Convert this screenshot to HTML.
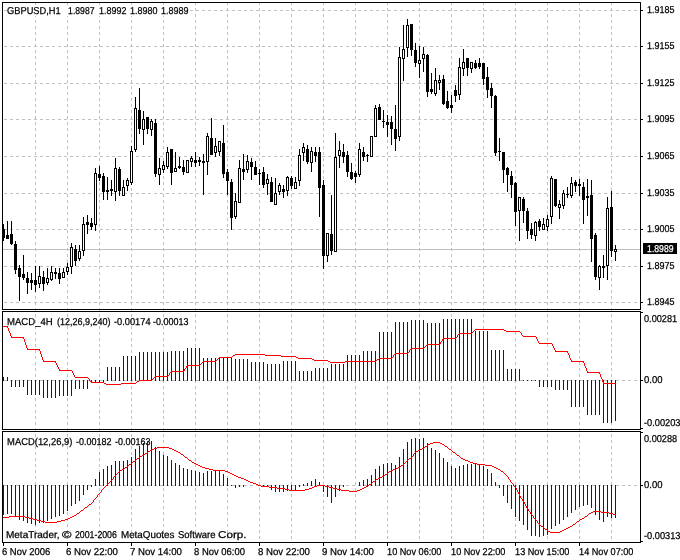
<!DOCTYPE html><html><head><meta charset="utf-8"><title>GBPUSD,H1</title><style>html,body{margin:0;padding:0;background:#fff;width:680px;height:560px;overflow:hidden}text{font-family:"Liberation Sans",sans-serif}</style></head><body><svg width="680" height="560" viewBox="0 0 680 560" shape-rendering="crispEdges" style="display:block;will-change:transform"><defs><pattern id="vg" patternUnits="userSpaceOnUse" x="0" y="0" width="32" height="6"><rect x="3" y="2" width="1" height="3" fill="#c0c0c0"/></pattern><pattern id="hg" patternUnits="userSpaceOnUse" x="0" y="0" width="6" height="1"><rect x="0" y="0" width="1" height="1" fill="#c0c0c0"/><rect x="4" y="0" width="2" height="1" fill="#c0c0c0"/></pattern></defs><rect width="680" height="560" fill="#fff"/><rect x="35" y="3" width="577" height="539" fill="url(#vg)"/><rect x="3" y="10" width="637" height="1" fill="url(#hg)"/><rect x="3" y="46" width="637" height="1" fill="url(#hg)"/><rect x="3" y="83" width="637" height="1" fill="url(#hg)"/><rect x="3" y="119" width="637" height="1" fill="url(#hg)"/><rect x="3" y="156" width="637" height="1" fill="url(#hg)"/><rect x="3" y="193" width="637" height="1" fill="url(#hg)"/><rect x="3" y="229" width="637" height="1" fill="url(#hg)"/><rect x="3" y="266" width="637" height="1" fill="url(#hg)"/><rect x="3" y="302" width="637" height="1" fill="url(#hg)"/><rect x="3" y="380" width="637" height="1" fill="url(#hg)"/><rect x="3" y="485" width="637" height="1" fill="url(#hg)"/><rect x="3" y="249" width="637" height="1" fill="#c0c0c0"/><path fill="#000" d="M3 224h1v17h-1zM2 229h3v9h-3zM7 221h1v18h-1zM6 235h3v4h-3zM11 221h1v24h-1zM10 234h3v10h-3zM15 241h1v33h-1zM14 244h3v26h-3zM19 265h1v36h-1zM18 268h3v9h-3zM23 255h1v25h-1zM22 274h3v4h-3zM27 272h1v22h-1zM26 278h3v5h-3zM31 273h1v17h-1zM30 280h3v3h-3zM35 266h1v26h-1zM34 280h3v5h-3zM39 266h1v22h-1zM38 276h3v8h-3zM43 271h1v20h-1zM42 277h3v7h-3zM47 268h1v17h-1zM46 278h3v5h-3zM51 266h1v15h-1zM50 272h3v8h-3zM55 268h1v11h-1zM54 272h3v2h-3zM59 268h1v16h-1zM58 273h3v6h-3zM63 268h1v10h-1zM62 272h3v6h-3zM67 263h1v12h-1zM66 267h3v5h-3zM71 243h1v31h-1zM70 247h3v20h-3zM75 245h1v21h-1zM74 249h3v12h-3zM79 245h1v16h-1zM78 251h3v8h-3zM83 217h1v39h-1zM82 224h3v27h-3zM87 215h1v19h-1zM86 222h3v3h-3zM91 218h1v12h-1zM90 223h3v4h-3zM95 168h1v63h-1zM94 173h3v52h-3zM99 166h1v15h-1zM98 174h3v4h-3zM103 173h1v27h-1zM102 176h3v16h-3zM107 177h1v23h-1zM106 190h3v2h-3zM111 180h1v16h-1zM110 189h3v2h-3zM115 158h1v43h-1zM114 168h3v24h-3zM119 167h1v29h-1zM118 169h3v22h-3zM123 180h1v16h-1zM122 187h3v9h-3zM127 178h1v13h-1zM126 180h3v6h-3zM131 146h1v39h-1zM130 151h3v32h-3zM135 97h1v55h-1zM134 108h3v42h-3zM139 88h1v46h-1zM138 110h3v19h-3zM143 111h1v34h-1zM142 119h3v11h-3zM147 117h1v17h-1zM146 117h3v12h-3zM151 119h1v17h-1zM150 121h3v9h-3zM155 119h1v58h-1zM154 123h3v51h-3zM159 158h1v27h-1zM158 168h3v7h-3zM163 161h1v12h-1zM162 165h3v5h-3zM167 147h1v22h-1zM166 152h3v15h-3zM171 149h1v36h-1zM170 149h3v24h-3zM175 152h1v20h-1zM174 168h3v4h-3zM179 157h1v12h-1zM178 166h3v2h-3zM183 160h1v15h-1zM182 167h3v5h-3zM187 160h1v13h-1zM186 160h3v13h-3zM191 156h1v11h-1zM190 158h3v4h-3zM195 152h1v15h-1zM194 160h3v3h-3zM199 157h1v9h-1zM198 160h3v2h-3zM203 154h1v41h-1zM202 161h3v2h-3zM207 133h1v42h-1zM206 136h3v26h-3zM211 118h1v37h-1zM210 138h3v17h-3zM215 138h1v19h-1zM214 146h3v7h-3zM219 141h1v15h-1zM218 141h3v11h-3zM223 125h1v53h-1zM222 143h3v31h-3zM227 169h1v26h-1zM226 172h3v9h-3zM231 179h1v51h-1zM230 182h3v36h-3zM235 193h1v26h-1zM234 201h3v16h-3zM239 160h1v43h-1zM238 168h3v35h-3zM243 154h1v26h-1zM242 169h3v3h-3zM247 155h1v18h-1zM246 161h3v9h-3zM251 158h1v22h-1zM250 162h3v5h-3zM255 161h1v14h-1zM254 167h3v8h-3zM259 169h1v16h-1zM258 173h3v1h-3zM263 167h1v21h-1zM262 172h3v13h-3zM267 174h1v21h-1zM266 179h3v5h-3zM271 177h1v25h-1zM270 182h3v20h-3zM275 178h1v27h-1zM274 193h3v12h-3zM279 183h1v12h-1zM278 185h3v7h-3zM283 185h1v13h-1zM282 189h3v3h-3zM287 176h1v20h-1zM286 177h3v14h-3zM291 176h1v13h-1zM290 178h3v8h-3zM295 177h1v12h-1zM294 182h3v7h-3zM299 149h1v37h-1zM298 155h3v26h-3zM303 143h1v18h-1zM302 147h3v6h-3zM307 145h1v19h-1zM306 149h3v13h-3zM311 147h1v25h-1zM310 151h3v12h-3zM315 147h1v15h-1zM314 152h3v4h-3zM319 147h1v70h-1zM318 152h3v36h-3zM323 180h1v89h-1zM322 185h3v71h-3zM327 233h1v29h-1zM326 233h3v23h-3zM331 195h1v60h-1zM330 234h3v17h-3zM335 133h1v119h-1zM334 157h3v95h-3zM339 141h1v27h-1zM338 150h3v6h-3zM343 144h1v19h-1zM342 152h3v5h-3zM347 151h1v26h-1zM346 155h3v17h-3zM351 163h1v17h-1zM350 172h3v7h-3zM355 171h1v12h-1zM354 173h3v4h-3zM359 143h1v34h-1zM358 149h3v26h-3zM363 147h1v14h-1zM362 152h3v5h-3zM367 154h1v8h-1zM366 155h3v1h-3zM371 136h1v21h-1zM370 136h3v21h-3zM375 105h1v32h-1zM374 108h3v29h-3zM379 104h1v16h-1zM378 107h3v13h-3zM383 110h1v18h-1zM382 121h3v1h-3zM387 115h1v22h-1zM386 122h3v3h-3zM391 116h1v29h-1zM390 122h3v7h-3zM395 105h1v46h-1zM394 129h3v10h-3zM399 47h1v94h-1zM398 57h3v80h-3zM403 25h1v56h-1zM402 49h3v10h-3zM407 19h1v38h-1zM406 25h3v23h-3zM411 24h1v32h-1zM410 24h3v26h-3zM415 43h1v24h-1zM414 50h3v13h-3zM419 46h1v32h-1zM418 60h3v4h-3zM423 47h1v25h-1zM422 54h3v5h-3zM427 54h1v43h-1zM426 55h3v37h-3zM431 73h1v21h-1zM430 89h3v3h-3zM435 68h1v28h-1zM434 80h3v14h-3zM439 75h1v15h-1zM438 80h3v3h-3zM443 75h1v30h-1zM442 79h3v25h-3zM447 91h1v18h-1zM446 101h3v7h-3zM451 95h1v18h-1zM450 105h3v3h-3zM455 85h1v17h-1zM454 90h3v6h-3zM459 58h1v42h-1zM458 67h3v28h-3zM463 49h1v27h-1zM462 62h3v7h-3zM467 58h1v18h-1zM466 58h3v10h-3zM471 62h1v11h-1zM470 62h3v7h-3zM475 60h1v9h-1zM474 63h3v5h-3zM479 58h1v11h-1zM478 63h3v4h-3zM483 63h1v22h-1zM482 63h3v16h-3zM487 67h1v31h-1zM486 77h3v13h-3zM491 83h1v25h-1zM490 88h3v8h-3zM495 95h1v61h-1zM494 96h3v57h-3zM499 138h1v23h-1zM498 151h3v1h-3zM503 152h1v31h-1zM502 152h3v18h-3zM507 167h1v25h-1zM506 168h3v7h-3zM511 171h1v27h-1zM510 176h3v9h-3zM515 182h1v44h-1zM514 183h3v29h-3zM519 197h1v44h-1zM518 197h3v14h-3zM523 197h1v26h-1zM522 199h3v12h-3zM527 208h1v31h-1zM526 211h3v20h-3zM531 223h1v16h-1zM530 229h3v6h-3zM535 221h1v20h-1zM534 222h3v14h-3zM539 219h1v12h-1zM538 221h3v6h-3zM543 218h1v12h-1zM542 224h3v6h-3zM547 215h1v16h-1zM546 219h3v8h-3zM551 176h1v48h-1zM550 178h3v39h-3zM555 179h1v28h-1zM554 179h3v27h-3zM559 200h1v19h-1zM558 204h3v4h-3zM563 190h1v19h-1zM562 193h3v13h-3zM567 187h1v11h-1zM566 194h3v1h-3zM571 177h1v21h-1zM570 183h3v13h-3zM575 180h1v12h-1zM574 182h3v4h-3zM579 179h1v17h-1zM578 184h3v2h-3zM583 182h1v42h-1zM582 187h3v13h-3zM587 179h1v37h-1zM586 196h3v2h-3zM591 180h1v82h-1zM590 195h3v44h-3zM595 233h1v47h-1zM594 235h3v42h-3zM599 265h1v25h-1zM598 266h3v12h-3zM603 255h1v23h-1zM602 266h3v2h-3zM607 197h1v83h-1zM606 208h3v58h-3zM611 191h1v66h-1zM610 207h3v44h-3zM615 245h1v16h-1zM614 249h3v3h-3z"/><path fill="#fff" d="M39 277h1v6h-1zM47 279h1v3h-1zM51 273h1v6h-1zM63 273h1v4h-1zM67 268h1v3h-1zM71 248h1v18h-1zM79 252h1v6h-1zM83 225h1v25h-1zM95 174h1v50h-1zM115 169h1v22h-1zM123 188h1v7h-1zM127 181h1v4h-1zM131 152h1v30h-1zM135 109h1v40h-1zM143 120h1v9h-1zM151 122h1v7h-1zM159 169h1v5h-1zM163 166h1v3h-1zM167 153h1v13h-1zM175 169h1v2h-1zM187 161h1v11h-1zM191 159h1v2h-1zM207 137h1v24h-1zM215 147h1v5h-1zM219 142h1v9h-1zM235 202h1v14h-1zM239 169h1v33h-1zM247 162h1v7h-1zM267 180h1v3h-1zM275 194h1v10h-1zM279 186h1v5h-1zM287 178h1v12h-1zM295 183h1v5h-1zM299 156h1v24h-1zM303 148h1v4h-1zM311 152h1v10h-1zM327 234h1v21h-1zM335 158h1v93h-1zM339 151h1v4h-1zM359 150h1v24h-1zM371 137h1v19h-1zM375 109h1v27h-1zM399 58h1v78h-1zM403 50h1v8h-1zM407 26h1v21h-1zM419 61h1v2h-1zM423 55h1v3h-1zM435 81h1v12h-1zM439 81h1v1h-1zM459 68h1v26h-1zM463 63h1v5h-1zM471 63h1v5h-1zM519 198h1v12h-1zM535 223h1v12h-1zM543 225h1v4h-1zM547 220h1v6h-1zM551 179h1v37h-1zM559 205h1v2h-1zM563 194h1v11h-1zM571 184h1v11h-1zM599 267h1v10h-1zM607 209h1v56h-1zM615 250h1v1h-1z"/><path fill="#0000ff" d="M3 377h1v4h-1zM7 377h1v4h-1zM11 380h1v7h-1zM15 380h1v7h-1zM19 380h1v7h-1zM23 380h1v7h-1zM27 380h1v15h-1zM31 380h1v15h-1zM35 380h1v15h-1zM39 380h1v15h-1zM43 380h1v18h-1zM47 380h1v18h-1zM51 380h1v18h-1zM55 380h1v18h-1zM59 380h1v16h-1zM63 380h1v16h-1zM67 380h1v16h-1zM71 380h1v16h-1zM75 380h1v9h-1zM79 380h1v9h-1zM83 380h1v9h-1zM87 380h1v9h-1zM91 380h1v2h-1zM95 380h1v2h-1zM99 380h1v2h-1zM103 380h1v2h-1zM107 367h1v14h-1zM111 367h1v14h-1zM115 367h1v14h-1zM119 367h1v14h-1zM123 356h1v25h-1zM127 356h1v25h-1zM131 356h1v25h-1zM135 356h1v25h-1zM139 352h1v29h-1zM143 352h1v29h-1zM147 352h1v29h-1zM151 352h1v29h-1zM155 352h1v29h-1zM159 352h1v29h-1zM163 352h1v29h-1zM167 352h1v29h-1zM171 351h1v30h-1zM175 351h1v30h-1zM179 351h1v30h-1zM183 351h1v30h-1zM187 348h1v33h-1zM191 348h1v33h-1zM195 348h1v33h-1zM199 348h1v33h-1zM203 358h1v23h-1zM207 358h1v23h-1zM211 358h1v23h-1zM215 358h1v23h-1zM219 357h1v24h-1zM223 357h1v24h-1zM227 357h1v24h-1zM231 357h1v24h-1zM235 359h1v22h-1zM239 359h1v22h-1zM243 359h1v22h-1zM247 359h1v22h-1zM251 362h1v19h-1zM255 362h1v19h-1zM259 362h1v19h-1zM263 362h1v19h-1zM267 364h1v17h-1zM271 364h1v17h-1zM275 364h1v17h-1zM279 364h1v17h-1zM283 361h1v20h-1zM287 361h1v20h-1zM291 361h1v20h-1zM295 361h1v20h-1zM299 371h1v10h-1zM303 371h1v10h-1zM307 371h1v10h-1zM311 371h1v10h-1zM315 368h1v13h-1zM319 368h1v13h-1zM323 368h1v13h-1zM327 368h1v13h-1zM331 364h1v17h-1zM335 364h1v17h-1zM339 364h1v17h-1zM343 364h1v17h-1zM347 355h1v26h-1zM351 355h1v26h-1zM355 355h1v26h-1zM359 355h1v26h-1zM363 351h1v30h-1zM367 351h1v30h-1zM371 351h1v30h-1zM375 351h1v30h-1zM379 332h1v49h-1zM383 332h1v49h-1zM387 332h1v49h-1zM391 332h1v49h-1zM395 322h1v59h-1zM399 322h1v59h-1zM403 322h1v59h-1zM407 322h1v59h-1zM411 320h1v61h-1zM415 320h1v61h-1zM419 320h1v61h-1zM423 320h1v61h-1zM427 323h1v58h-1zM431 323h1v58h-1zM435 323h1v58h-1zM439 323h1v58h-1zM443 319h1v62h-1zM447 319h1v62h-1zM451 319h1v62h-1zM455 319h1v62h-1zM459 319h1v62h-1zM463 319h1v62h-1zM467 319h1v62h-1zM471 319h1v62h-1zM475 331h1v50h-1zM479 331h1v50h-1zM483 331h1v50h-1zM487 331h1v50h-1zM491 350h1v31h-1zM495 350h1v31h-1zM499 350h1v31h-1zM503 350h1v31h-1zM507 369h1v12h-1zM511 369h1v12h-1zM515 369h1v12h-1zM519 369h1v12h-1zM523 380h1v1h-1zM527 380h1v1h-1zM531 380h1v1h-1zM535 380h1v1h-1zM539 380h1v7h-1zM543 380h1v7h-1zM547 380h1v7h-1zM551 380h1v7h-1zM555 380h1v10h-1zM559 380h1v10h-1zM563 380h1v10h-1zM567 380h1v10h-1zM571 380h1v27h-1zM575 380h1v27h-1zM579 380h1v27h-1zM583 380h1v27h-1zM587 380h1v35h-1zM591 380h1v35h-1zM595 380h1v35h-1zM599 380h1v35h-1zM603 380h1v43h-1zM607 380h1v43h-1zM611 380h1v43h-1zM615 380h1v41h-1zM3 485h1v30h-1zM7 485h1v29h-1zM11 485h1v29h-1zM15 485h1v32h-1zM19 485h1v35h-1zM23 485h1v36h-1zM27 485h1v38h-1zM31 485h1v39h-1zM35 485h1v40h-1zM39 485h1v38h-1zM43 485h1v38h-1zM47 485h1v36h-1zM51 485h1v34h-1zM55 485h1v32h-1zM59 485h1v31h-1zM63 485h1v29h-1zM67 485h1v26h-1zM71 485h1v21h-1zM75 485h1v19h-1zM79 485h1v16h-1zM83 485h1v10h-1zM87 485h1v5h-1zM91 485h1v2h-1zM95 479h1v7h-1zM99 472h1v14h-1zM103 469h1v17h-1zM107 466h1v20h-1zM111 465h1v21h-1zM115 461h1v25h-1zM119 461h1v25h-1zM123 461h1v25h-1zM127 460h1v26h-1zM131 457h1v29h-1zM135 449h1v37h-1zM139 446h1v40h-1zM143 443h1v43h-1zM147 442h1v44h-1zM151 441h1v45h-1zM155 447h1v39h-1zM159 451h1v35h-1zM163 455h1v31h-1zM167 456h1v30h-1zM171 460h1v26h-1zM175 463h1v23h-1zM179 465h1v21h-1zM183 468h1v18h-1zM187 469h1v17h-1zM191 470h1v16h-1zM195 471h1v15h-1zM199 472h1v14h-1zM203 473h1v13h-1zM207 471h1v15h-1zM211 471h1v15h-1zM215 471h1v15h-1zM219 471h1v15h-1zM223 474h1v12h-1zM227 478h1v8h-1zM231 485h1v1h-1zM235 485h1v3h-1zM239 485h1v2h-1zM243 485h1v2h-1zM263 485h1v2h-1zM267 485h1v2h-1zM271 485h1v5h-1zM275 485h1v7h-1zM279 485h1v7h-1zM283 485h1v7h-1zM287 485h1v6h-1zM291 485h1v6h-1zM295 485h1v5h-1zM299 485h1v2h-1zM303 484h1v2h-1zM307 483h1v3h-1zM311 481h1v5h-1zM315 479h1v7h-1zM319 482h1v4h-1zM323 485h1v7h-1zM327 485h1v12h-1zM331 485h1v18h-1zM335 485h1v12h-1zM339 485h1v6h-1zM343 485h1v2h-1zM359 482h1v4h-1zM363 480h1v6h-1zM367 479h1v7h-1zM371 475h1v11h-1zM375 469h1v17h-1zM379 466h1v20h-1zM383 464h1v22h-1zM387 463h1v23h-1zM391 463h1v23h-1zM395 465h1v21h-1zM399 457h1v29h-1zM403 449h1v37h-1zM407 442h1v44h-1zM411 439h1v47h-1zM415 438h1v48h-1zM419 439h1v47h-1zM423 438h1v48h-1zM427 443h1v43h-1zM431 448h1v38h-1zM435 450h1v36h-1zM439 453h1v33h-1zM443 458h1v28h-1zM447 462h1v24h-1zM451 466h1v20h-1zM455 468h1v18h-1zM459 466h1v20h-1zM463 465h1v21h-1zM467 464h1v22h-1zM471 464h1v22h-1zM475 464h1v22h-1zM479 464h1v22h-1zM483 466h1v20h-1zM487 469h1v17h-1zM491 473h1v13h-1zM495 482h1v4h-1zM499 485h1v3h-1zM503 485h1v11h-1zM507 485h1v18h-1zM511 485h1v24h-1zM515 485h1v32h-1zM519 485h1v36h-1zM523 485h1v40h-1zM527 485h1v45h-1zM531 485h1v51h-1zM535 485h1v51h-1zM539 485h1v52h-1zM543 485h1v51h-1zM547 485h1v50h-1zM551 485h1v44h-1zM555 485h1v41h-1zM559 485h1v39h-1zM563 485h1v35h-1zM567 485h1v32h-1zM571 485h1v28h-1zM575 485h1v25h-1zM579 485h1v22h-1zM583 485h1v21h-1zM587 485h1v20h-1zM591 485h1v23h-1zM595 485h1v30h-1zM599 485h1v35h-1zM603 485h1v37h-1zM607 485h1v32h-1zM611 485h1v33h-1zM615 485h1v33h-1z"/><path fill="#ff0000" d="M518 331h1v1h-1zM84 377h1v1h-1zM51 361h1v1h-1zM431 344h1v1h-1zM570 358h1v2h-1zM465 333h1v1h-1zM370 361h1v1h-1zM560 351h1v1h-1zM446 338h1v1h-1zM571 360h1v2h-1zM320 360h1v1h-1zM343 362h1v1h-1zM508 331h1v1h-1zM519 331h1v1h-1zM195 365h1v1h-1zM439 344h1v1h-1zM442 339h1v2h-1zM574 361h1v1h-1zM597 372h1v1h-1zM240 354h1v1h-1zM553 346h1v2h-1zM545 343h1v1h-1zM537 339h1v2h-1zM377 359h1v1h-1zM476 329h1v1h-1zM487 329h1v1h-1zM24 339h1v3h-1zM87 377h1v1h-1zM335 362h1v1h-1zM43 360h1v2h-1zM411 348h1v1h-1zM96 382h1v1h-1zM88 378h1v1h-1zM403 353h1v1h-1zM9 331h1v2h-1zM362 361h1v1h-1zM563 351h1v1h-1zM384 358h1v1h-1zM449 338h1v1h-1zM27 348h1v2h-1zM6 326h1v1h-1zM477 329h1v1h-1zM77 377h1v1h-1zM141 380h1v1h-1zM259 354h1v1h-1zM585 366h1v2h-1zM612 383h1v1h-1zM458 334h1v1h-1zM228 357h1v1h-1zM187 365h1v1h-1zM198 365h1v1h-1zM20 337h1v1h-1zM39 349h1v2h-1zM271 355h1v1h-1zM577 361h1v1h-1zM589 372h1v1h-1zM243 354h1v1h-1zM64 370h1v1h-1zM171 371h1v1h-1zM182 371h1v1h-1zM233 355h1v1h-1zM285 356h1v1h-1zM308 358h1v1h-1zM496 329h1v1h-1zM163 376h1v1h-1zM129 383h1v1h-1zM510 331h1v1h-1zM392 357h1v1h-1zM603 382h1v2h-1zM395 353h1v1h-1zM113 384h1v1h-1zM58 367h1v2h-1zM30 349h1v1h-1zM345 361h1v1h-1zM251 354h1v1h-1zM144 380h1v1h-1zM262 354h1v1h-1zM552 344h1v2h-1zM604 383h1v1h-1zM615 383h1v1h-1zM220 357h1v1h-1zM373 361h1v1h-1zM12 337h1v1h-1zM23 337h1v2h-1zM323 360h1v1h-1zM274 355h1v1h-1zM114 384h1v1h-1zM422 348h1v1h-1zM45 361h1v1h-1zM468 333h1v1h-1zM38 349h1v1h-1zM300 358h1v1h-1zM426 345h1v1h-1zM499 329h1v1h-1zM202 362h1v1h-1zM548 343h1v1h-1zM584 363h1v3h-1zM121 383h1v1h-1zM132 383h1v1h-1zM513 331h1v1h-1zM79 377h1v1h-1zM152 379h1v1h-1zM533 336h1v1h-1zM209 361h1v1h-1zM354 361h1v1h-1zM365 361h1v1h-1zM555 350h1v2h-1zM566 351h1v1h-1zM387 358h1v1h-1zM452 338h1v1h-1zM539 343h1v1h-1zM315 360h1v1h-1zM338 362h1v1h-1zM536 337h1v2h-1zM414 348h1v1h-1zM567 351h1v2h-1zM190 365h1v1h-1zM297 357h1v1h-1zM434 344h1v1h-1zM600 374h1v3h-1zM57 365h1v2h-1zM592 372h1v1h-1zM235 354h1v1h-1zM540 343h1v1h-1zM8 328h1v3h-1zM90 381h1v1h-1zM82 377h1v1h-1zM174 371h1v1h-1zM311 358h1v1h-1zM155 376h1v1h-1zM166 376h1v1h-1zM91 382h1v1h-1zM102 382h1v1h-1zM398 353h1v1h-1zM357 361h1v1h-1zM116 384h1v1h-1zM558 351h1v1h-1zM379 358h1v1h-1zM390 358h1v1h-1zM254 354h1v1h-1zM147 380h1v1h-1zM288 356h1v1h-1zM607 383h1v1h-1zM223 357h1v1h-1zM15 337h1v1h-1zM569 355h1v3h-1zM26 345h1v3h-1zM266 355h1v1h-1zM277 355h1v1h-1zM521 333h1v2h-1zM460 333h1v1h-1zM471 333h1v1h-1zM535 336h1v1h-1zM554 348h1v2h-1zM177 371h1v1h-1zM303 358h1v1h-1zM326 360h1v1h-1zM491 329h1v1h-1zM502 329h1v1h-1zM158 376h1v1h-1zM124 383h1v1h-1zM135 383h1v1h-1zM186 366h1v2h-1zM516 331h1v1h-1zM108 384h1v1h-1zM580 361h1v1h-1zM410 349h1v1h-1zM56 363h1v2h-1zM329 361h1v1h-1zM246 354h1v1h-1zM139 380h1v1h-1zM212 361h1v1h-1zM67 370h1v1h-1zM89 379h1v2h-1zM18 337h1v1h-1zM444 338h1v1h-1zM330 362h1v1h-1zM341 362h1v1h-1zM269 355h1v1h-1zM417 348h1v1h-1zM193 365h1v1h-1zM437 344h1v1h-1zM33 349h1v1h-1zM595 372h1v1h-1zM359 361h1v1h-1zM494 329h1v1h-1zM105 383h1v1h-1zM127 383h1v1h-1zM85 377h1v1h-1zM200 364h1v1h-1zM528 336h1v1h-1zM520 332h1v1h-1zM204 361h1v1h-1zM215 361h1v1h-1zM59 369h1v2h-1zM70 370h1v1h-1zM349 361h1v1h-1zM360 361h1v1h-1zM382 358h1v1h-1zM561 351h1v1h-1zM333 362h1v1h-1zM257 354h1v1h-1zM291 356h1v1h-1zM493 329h1v1h-1zM429 344h1v1h-1zM587 371h1v2h-1zM505 330h1v1h-1zM610 383h1v1h-1zM463 333h1v1h-1zM368 361h1v1h-1zM455 338h1v1h-1zM306 358h1v1h-1zM318 360h1v1h-1zM184 369h1v2h-1zM161 376h1v1h-1zM97 382h1v1h-1zM7 326h1v2h-1zM352 361h1v1h-1zM111 384h1v1h-1zM385 358h1v1h-1zM572 361h1v1h-1zM583 361h1v2h-1zM40 351h1v3h-1zM238 354h1v1h-1zM249 354h1v1h-1zM260 354h1v1h-1zM394 354h1v1h-1zM543 343h1v1h-1zM485 329h1v1h-1zM344 362h1v1h-1zM568 353h1v2h-1zM52 361h1v1h-1zM25 342h1v3h-1zM420 348h1v1h-1zM74 375h1v2h-1zM401 353h1v1h-1zM601 377h1v2h-1zM466 333h1v1h-1zM530 336h1v1h-1zM447 338h1v1h-1zM36 349h1v1h-1zM172 371h1v1h-1zM55 361h1v2h-1zM298 358h1v1h-1zM351 361h1v1h-1zM150 380h1v1h-1zM486 329h1v1h-1zM598 372h1v1h-1zM602 379h1v3h-1zM226 357h1v1h-1zM511 331h1v1h-1zM196 365h1v1h-1zM425 346h1v1h-1zM280 355h1v1h-1zM154 377h1v1h-1zM575 361h1v1h-1zM241 354h1v1h-1zM207 361h1v1h-1zM62 370h1v1h-1zM473 331h1v1h-1zM378 359h1v1h-1zM336 362h1v1h-1zM180 371h1v1h-1zM283 356h1v1h-1zM294 356h1v1h-1zM412 348h1v1h-1zM423 348h1v1h-1zM404 353h1v1h-1zM432 344h1v1h-1zM99 382h1v1h-1zM28 349h1v1h-1zM590 372h1v1h-1zM142 380h1v1h-1zM613 383h1v1h-1zM229 357h1v1h-1zM80 377h1v1h-1zM21 337h1v1h-1zM321 360h1v1h-1zM272 355h1v1h-1zM164 376h1v1h-1zM523 336h1v1h-1zM54 361h1v1h-1zM73 373h1v2h-1zM210 361h1v1h-1zM219 357h1v1h-1zM586 368h1v3h-1zM252 354h1v1h-1zM286 356h1v1h-1zM546 343h1v1h-1zM130 383h1v1h-1zM488 329h1v1h-1zM169 373h1v2h-1zM435 344h1v1h-1zM531 336h1v1h-1zM312 359h1v1h-1zM469 333h1v1h-1zM363 361h1v1h-1zM374 361h1v1h-1zM564 351h1v1h-1zM450 338h1v1h-1zM324 360h1v1h-1zM156 376h1v1h-1zM122 383h1v1h-1zM137 381h1v1h-1zM188 365h1v1h-1zM199 365h1v1h-1zM106 384h1v1h-1zM578 361h1v1h-1zM244 354h1v1h-1zM549 343h1v1h-1zM65 370h1v1h-1zM480 329h1v1h-1zM457 335h1v2h-1zM339 362h1v1h-1zM183 371h1v1h-1zM47 361h1v1h-1zM309 358h1v1h-1zM415 348h1v1h-1zM42 357h1v3h-1zM396 353h1v1h-1zM407 353h1v1h-1zM461 333h1v1h-1zM525 336h1v1h-1zM556 351h1v1h-1zM388 358h1v1h-1zM31 349h1v1h-1zM346 361h1v1h-1zM481 329h1v1h-1zM263 354h1v1h-1zM145 380h1v1h-1zM605 383h1v1h-1zM221 357h1v1h-1zM506 331h1v1h-1zM191 365h1v1h-1zM13 337h1v1h-1zM275 355h1v1h-1zM236 354h1v1h-1zM46 361h1v1h-1zM68 370h1v1h-1zM217 359h1v1h-1zM331 362h1v1h-1zM175 371h1v1h-1zM289 356h1v1h-1zM301 358h1v1h-1zM489 329h1v1h-1zM500 329h1v1h-1zM522 335h1v1h-1zM133 383h1v1h-1zM514 331h1v1h-1zM313 359h1v1h-1zM427 344h1v1h-1zM94 382h1v1h-1zM534 336h1v1h-1zM255 354h1v1h-1zM608 383h1v1h-1zM72 371h1v2h-1zM224 357h1v1h-1zM366 361h1v1h-1zM16 337h1v1h-1zM453 338h1v1h-1zM551 343h1v1h-1zM316 360h1v1h-1zM327 360h1v1h-1zM267 355h1v1h-1zM515 331h1v1h-1zM49 361h1v1h-1zM328 361h1v1h-1zM593 372h1v1h-1zM281 356h1v1h-1zM541 343h1v1h-1zM125 383h1v1h-1zM483 329h1v1h-1zM83 377h1v1h-1zM441 341h1v1h-1zM167 376h1v1h-1zM526 336h1v1h-1zM170 372h1v1h-1zM103 382h1v1h-1zM232 356h1v1h-1zM399 353h1v1h-1zM213 361h1v1h-1zM347 361h1v1h-1zM358 361h1v1h-1zM117 384h1v1h-1zM369 361h1v1h-1zM380 358h1v1h-1zM391 358h1v1h-1zM559 351h1v1h-1zM445 338h1v1h-1zM319 360h1v1h-1zM148 380h1v1h-1zM408 352h1v1h-1zM194 365h1v1h-1zM278 355h1v1h-1zM376 360h1v1h-1zM438 344h1v1h-1zM573 361h1v1h-1zM596 372h1v1h-1zM239 354h1v1h-1zM544 343h1v1h-1zM293 356h1v1h-1zM60 370h1v1h-1zM4 326h1v1h-1zM75 377h1v1h-1zM475 329h1v1h-1zM178 371h1v1h-1zM304 358h1v1h-1zM503 329h1v1h-1zM159 376h1v1h-1zM599 372h1v2h-1zM95 382h1v1h-1zM517 331h1v1h-1zM402 353h1v1h-1zM205 361h1v1h-1zM109 384h1v1h-1zM120 384h1v1h-1zM383 358h1v1h-1zM581 361h1v1h-1zM5 326h1v1h-1zM247 354h1v1h-1zM140 380h1v1h-1zM151 380h1v1h-1zM258 354h1v1h-1zM611 383h1v1h-1zM227 357h1v1h-1zM19 337h1v1h-1zM342 362h1v1h-1zM270 355h1v1h-1zM110 384h1v1h-1zM418 348h1v1h-1zM464 333h1v1h-1zM34 349h1v1h-1zM307 358h1v1h-1zM371 361h1v1h-1zM484 329h1v1h-1zM495 329h1v1h-1zM128 383h1v1h-1zM509 331h1v1h-1zM86 377h1v1h-1zM529 336h1v1h-1zM250 354h1v1h-1zM71 370h1v1h-1zM361 361h1v1h-1zM562 351h1v1h-1zM11 336h1v2h-1zM448 338h1v1h-1zM334 362h1v1h-1zM292 356h1v1h-1zM440 342h1v2h-1zM41 354h1v3h-1zM421 348h1v1h-1zM472 332h1v1h-1zM44 361h1v1h-1zM197 365h1v1h-1zM201 363h1v1h-1zM37 349h1v1h-1zM588 372h1v1h-1zM136 382h1v1h-1zM478 329h1v1h-1zM78 377h1v1h-1zM181 371h1v1h-1zM162 376h1v1h-1zM532 336h1v1h-1zM98 382h1v1h-1zM456 337h1v1h-1zM208 361h1v1h-1zM63 370h1v1h-1zM353 361h1v1h-1zM364 361h1v1h-1zM112 384h1v1h-1zM185 368h1v1h-1zM386 358h1v1h-1zM409 350h1v2h-1zM565 351h1v1h-1zM314 360h1v1h-1zM261 354h1v1h-1zM143 380h1v1h-1zM284 356h1v1h-1zM295 356h1v1h-1zM234 355h1v1h-1zM189 365h1v1h-1zM497 329h1v1h-1zM22 337h1v1h-1zM273 355h1v1h-1zM53 361h1v1h-1zM296 357h1v1h-1zM433 344h1v1h-1zM467 333h1v1h-1zM372 361h1v1h-1zM173 371h1v1h-1zM299 358h1v1h-1zM310 358h1v1h-1zM322 360h1v1h-1zM498 329h1v1h-1zM165 376h1v1h-1zM216 360h1v1h-1zM101 382h1v1h-1zM131 383h1v1h-1zM512 331h1v1h-1zM305 358h1v1h-1zM115 384h1v1h-1zM576 361h1v1h-1zM242 354h1v1h-1zM253 354h1v1h-1zM547 343h1v1h-1zM222 357h1v1h-1zM14 337h1v1h-1zM337 362h1v1h-1zM265 355h1v1h-1zM413 348h1v1h-1zM405 353h1v1h-1zM459 333h1v1h-1zM100 382h1v1h-1zM29 349h1v1h-1zM591 372h1v1h-1zM355 361h1v1h-1zM479 329h1v1h-1zM490 329h1v1h-1zM614 383h1v1h-1zM230 357h1v1h-1zM123 383h1v1h-1zM81 377h1v1h-1zM10 333h1v3h-1zM406 353h1v1h-1zM524 336h1v1h-1zM211 361h1v1h-1zM66 370h1v1h-1zM356 361h1v1h-1zM557 351h1v1h-1zM393 355h1v2h-1zM231 357h1v1h-1zM340 362h1v1h-1zM264 354h1v1h-1zM287 356h1v1h-1zM416 348h1v1h-1zM397 353h1v1h-1zM436 344h1v1h-1zM92 382h1v1h-1zM594 372h1v1h-1zM146 380h1v1h-1zM606 383h1v1h-1zM470 333h1v1h-1zM375 361h1v1h-1zM104 383h1v1h-1zM451 338h1v1h-1zM302 358h1v1h-1zM325 360h1v1h-1zM157 376h1v1h-1zM93 382h1v1h-1zM474 330h1v1h-1zM138 381h1v1h-1zM203 361h1v1h-1zM538 341h1v2h-1zM348 361h1v1h-1zM107 384h1v1h-1zM118 384h1v1h-1zM381 358h1v1h-1zM579 361h1v1h-1zM424 347h1v1h-1zM245 354h1v1h-1zM256 354h1v1h-1zM153 378h1v1h-1zM550 343h1v1h-1zM134 383h1v1h-1zM492 329h1v1h-1zM268 355h1v1h-1zM48 361h1v1h-1zM428 344h1v1h-1zM504 330h1v1h-1zM462 333h1v1h-1zM367 361h1v1h-1zM389 358h1v1h-1zM443 338h1v1h-1zM454 338h1v1h-1zM32 349h1v1h-1zM317 360h1v1h-1zM482 329h1v1h-1zM160 376h1v1h-1zM126 383h1v1h-1zM507 331h1v1h-1zM192 365h1v1h-1zM276 355h1v1h-1zM582 361h1v1h-1zM527 336h1v1h-1zM237 354h1v1h-1zM248 354h1v1h-1zM542 343h1v1h-1zM214 361h1v1h-1zM69 370h1v1h-1zM332 362h1v1h-1zM176 371h1v1h-1zM290 356h1v1h-1zM501 329h1v1h-1zM218 358h1v1h-1zM419 348h1v1h-1zM400 353h1v1h-1zM168 375h1v1h-1zM35 349h1v1h-1zM3 326h1v1h-1zM350 361h1v1h-1zM149 380h1v1h-1zM609 383h1v1h-1zM225 357h1v1h-1zM76 377h1v1h-1zM17 337h1v1h-1zM279 355h1v1h-1zM119 384h1v1h-1zM50 361h1v1h-1zM430 344h1v1h-1zM206 361h1v1h-1zM61 370h1v1h-1zM179 371h1v1h-1zM282 356h1v1h-1zM444 445h1v1h-1zM100 492h1v1h-1zM57 521h1v1h-1zM397 468h1v1h-1zM174 450h1v1h-1zM332 487h1v1h-1zM540 525h1v1h-1zM290 490h1v1h-1zM543 527h1v1h-1zM95 498h1v1h-1zM503 472h1v1h-1zM203 467h1v1h-1zM335 488h1v1h-1zM347 490h1v1h-1zM358 490h1v1h-1zM566 528h1v1h-1zM308 489h1v1h-1zM37 520h1v1h-1zM488 465h1v1h-1zM520 496h1v2h-1zM528 509h1v2h-1zM206 468h1v1h-1zM510 480h1v2h-1zM477 464h1v1h-1zM427 445h1v1h-1zM513 484h1v2h-1zM112 479h1v1h-1zM521 498h1v1h-1zM529 511h1v1h-1zM115 475h1v1h-1zM388 472h1v1h-1zM615 514h1v1h-1zM419 450h1v1h-1zM408 459h1v1h-1zM199 465h1v1h-1zM313 487h1v1h-1zM191 461h1v1h-1zM103 488h1v1h-1zM19 516h1v1h-1zM514 486h1v1h-1zM293 490h1v1h-1zM75 515h1v1h-1zM263 486h1v1h-1zM338 489h1v1h-1zM443 444h1v1h-1zM52 522h1v1h-1zM597 511h1v1h-1zM161 447h1v1h-1zM412 456h1v1h-1zM192 462h1v1h-1zM401 465h1v1h-1zM432 443h1v1h-1zM34 519h1v1h-1zM539 524h1v1h-1zM381 477h1v1h-1zM499 469h1v1h-1zM339 489h1v1h-1zM195 463h1v1h-1zM320 485h1v1h-1zM278 488h1v1h-1zM301 490h1v1h-1zM353 491h1v1h-1zM439 442h1v1h-1zM458 455h1v1h-1zM612 513h1v1h-1zM210 469h1v1h-1zM562 530h1v1h-1zM60 521h1v1h-1zM11 516h1v1h-1zM130 464h1v1h-1zM453 452h1v1h-1zM495 467h1v1h-1zM524 502h1v2h-1zM476 463h1v1h-1zM134 461h1v1h-1zM517 490h1v2h-1zM3 517h1v1h-1zM154 448h1v1h-1zM269 487h1v1h-1zM415 452h1v1h-1zM592 512h1v1h-1zM603 512h1v1h-1zM376 479h1v1h-1zM79 512h1v1h-1zM584 517h1v1h-1zM71 517h1v1h-1zM281 488h1v1h-1zM491 465h1v1h-1zM365 487h1v1h-1zM83 509h1v1h-1zM221 470h1v1h-1zM315 486h1v1h-1zM41 521h1v1h-1zM377 479h1v1h-1zM369 484h1v1h-1zM87 506h1v1h-1zM107 484h1v1h-1zM53 522h1v1h-1zM236 476h1v1h-1zM22 516h1v1h-1zM403 464h1v1h-1zM266 486h1v1h-1zM395 469h1v1h-1zM600 511h1v1h-1zM449 449h1v1h-1zM164 447h1v1h-1zM527 508h1v1h-1zM187 458h1v1h-1zM342 490h1v1h-1zM239 477h1v1h-1zM523 501h1v1h-1zM354 491h1v1h-1zM323 485h1v1h-1zM138 458h1v1h-1zM232 474h1v1h-1zM576 522h1v1h-1zM213 470h1v1h-1zM224 470h1v1h-1zM304 490h1v1h-1zM44 521h1v1h-1zM516 488h1v2h-1zM568 527h1v1h-1zM25 517h1v1h-1zM588 514h1v1h-1zM580 519h1v1h-1zM14 516h1v1h-1zM67 519h1v1h-1zM235 475h1v1h-1zM549 531h1v1h-1zM250 482h1v1h-1zM361 489h1v1h-1zM569 527h1v1h-1zM228 472h1v1h-1zM311 488h1v1h-1zM345 490h1v1h-1zM326 486h1v1h-1zM6 517h1v1h-1zM91 503h1v1h-1zM94 499h1v1h-1zM243 478h1v1h-1zM296 490h1v1h-1zM434 442h1v1h-1zM545 529h1v1h-1zM246 480h1v1h-1zM383 476h1v1h-1zM285 489h1v1h-1zM530 512h1v2h-1zM519 494h1v2h-1zM407 460h1v1h-1zM531 514h1v1h-1zM102 489h1v1h-1zM564 529h1v1h-1zM182 454h1v1h-1zM445 446h1v1h-1zM97 495h1v2h-1zM132 462h1v1h-1zM183 455h1v1h-1zM486 465h1v1h-1zM152 449h1v1h-1zM144 454h1v1h-1zM216 470h1v1h-1zM258 485h1v1h-1zM333 488h1v1h-1zM28 517h1v1h-1zM440 443h1v1h-1zM272 487h1v1h-1zM606 512h1v1h-1zM178 452h1v1h-1zM48 522h1v1h-1zM367 486h1v1h-1zM504 473h1v1h-1zM29 518h1v1h-1zM105 486h1v1h-1zM261 486h1v1h-1zM284 488h1v1h-1zM387 473h1v1h-1zM595 511h1v1h-1zM379 478h1v1h-1zM463 459h1v1h-1zM85 507h1v1h-1zM505 474h1v1h-1zM371 483h1v1h-1zM526 506h1v2h-1zM273 487h1v1h-1zM348 490h1v1h-1zM553 532h1v1h-1zM254 483h1v1h-1zM391 470h1v1h-1zM515 487h1v1h-1zM426 446h1v1h-1zM287 489h1v1h-1zM89 504h1v1h-1zM349 491h1v1h-1zM78 513h1v1h-1zM330 487h1v1h-1zM299 490h1v1h-1zM437 442h1v1h-1zM257 484h1v1h-1zM560 531h1v1h-1zM471 462h1v1h-1zM167 447h1v1h-1zM136 459h1v1h-1zM541 526h1v1h-1zM117 473h1v1h-1zM148 451h1v1h-1zM474 463h1v1h-1zM140 456h1v1h-1zM402 465h1v1h-1zM196 464h1v1h-1zM35 519h1v1h-1zM121 470h1v1h-1zM467 460h1v1h-1zM459 456h1v1h-1zM613 514h1v1h-1zM101 490h1v2h-1zM363 488h1v1h-1zM571 526h1v1h-1zM17 516h1v1h-1zM291 490h1v1h-1zM50 522h1v1h-1zM375 480h1v1h-1zM583 518h1v1h-1zM197 464h1v1h-1zM159 447h1v1h-1zM522 499h1v2h-1zM189 460h1v1h-1zM575 523h1v1h-1zM525 504h1v2h-1zM219 470h1v1h-1zM441 443h1v1h-1zM533 516h1v2h-1zM200 466h1v1h-1zM336 488h1v1h-1zM359 490h1v1h-1zM93 500h1v2h-1zM171 448h1v1h-1zM275 487h1v1h-1zM555 532h1v1h-1zM518 492h1v2h-1zM74 515h1v1h-1zM109 482h1v1h-1zM337 489h1v1h-1zM534 518h1v1h-1zM51 522h1v1h-1zM318 485h1v1h-1zM32 518h1v1h-1zM405 462h1v1h-1zM264 486h1v1h-1zM351 491h1v1h-1zM598 511h1v1h-1zM385 474h1v1h-1zM193 462h1v1h-1zM500 470h1v1h-1zM492 466h1v1h-1zM58 521h1v1h-1zM9 516h1v1h-1zM501 471h1v1h-1zM398 467h1v1h-1zM222 470h1v1h-1zM302 490h1v1h-1zM558 532h1v1h-1zM601 512h1v1h-1zM496 468h1v1h-1zM204 467h1v1h-1zM567 528h1v1h-1zM65 519h1v1h-1zM146 453h1v1h-1zM279 488h1v1h-1zM38 520h1v1h-1zM123 469h1v1h-1zM579 520h1v1h-1zM489 465h1v1h-1zM508 477h1v2h-1zM207 468h1v1h-1zM532 515h1v1h-1zM563 530h1v1h-1zM127 466h1v1h-1zM454 452h1v1h-1zM39 520h1v1h-1zM20 516h1v1h-1zM294 490h1v1h-1zM393 469h1v1h-1zM455 453h1v1h-1zM4 517h1v1h-1zM424 447h1v1h-1zM162 447h1v1h-1zM76 514h1v1h-1zM480 464h1v1h-1zM428 444h1v1h-1zM185 457h1v1h-1zM80 511h1v1h-1zM409 458h1v1h-1zM321 485h1v1h-1zM188 459h1v1h-1zM104 487h1v1h-1zM42 521h1v1h-1zM481 464h1v1h-1zM211 469h1v1h-1zM150 450h1v1h-1zM506 475h1v1h-1zM12 516h1v1h-1zM23 516h1v1h-1zM142 455h1v1h-1zM225 471h1v1h-1zM96 497h1v1h-1zM267 486h1v1h-1zM435 442h1v1h-1zM99 493h1v1h-1zM45 522h1v1h-1zM56 522h1v1h-1zM119 471h1v1h-1zM165 447h1v1h-1zM507 476h1v1h-1zM214 470h1v1h-1zM131 463h1v1h-1zM309 488h1v1h-1zM343 490h1v1h-1zM248 481h1v1h-1zM26 517h1v1h-1zM155 448h1v1h-1zM270 487h1v1h-1zM550 532h1v1h-1zM143 455h1v1h-1zM604 512h1v1h-1zM373 481h1v1h-1zM135 460h1v1h-1zM324 485h1v1h-1zM61 520h1v1h-1zM573 524h1v1h-1zM282 488h1v1h-1zM389 471h1v1h-1zM565 529h1v1h-1zM420 449h1v1h-1zM184 456h1v1h-1zM72 516h1v1h-1zM577 521h1v1h-1zM316 486h1v1h-1zM327 486h1v1h-1zM244 479h1v1h-1zM370 484h1v1h-1zM416 451h1v1h-1zM111 480h1v1h-1zM237 476h1v1h-1zM68 518h1v1h-1zM229 472h1v1h-1zM7 517h1v1h-1zM450 449h1v1h-1zM461 458h1v1h-1zM483 464h1v1h-1zM30 518h1v1h-1zM240 477h1v1h-1zM400 466h1v1h-1zM172 449h1v1h-1zM233 474h1v1h-1zM404 463h1v1h-1zM465 460h1v1h-1zM226 471h1v1h-1zM581 519h1v1h-1zM331 487h1v1h-1zM15 516h1v1h-1zM289 490h1v1h-1zM561 531h1v1h-1zM251 482h1v1h-1zM593 511h1v1h-1zM63 520h1v1h-1zM157 447h1v1h-1zM168 447h1v1h-1zM114 476h1v1h-1zM585 516h1v1h-1zM346 490h1v1h-1zM357 490h1v1h-1zM169 448h1v1h-1zM307 489h1v1h-1zM84 508h1v1h-1zM607 512h1v1h-1zM487 465h1v1h-1zM153 449h1v1h-1zM411 457h1v1h-1zM468 461h1v1h-1zM64 520h1v1h-1zM217 470h1v1h-1zM297 490h1v1h-1zM546 529h1v1h-1zM247 480h1v1h-1zM430 443h1v1h-1zM179 452h1v1h-1zM198 465h1v1h-1zM312 487h1v1h-1zM82 510h1v1h-1zM396 468h1v1h-1zM18 516h1v1h-1zM442 444h1v1h-1zM262 486h1v1h-1zM596 511h1v1h-1zM180 453h1v1h-1zM160 447h1v1h-1zM464 459h1v1h-1zM610 513h1v1h-1zM106 485h1v1h-1zM431 443h1v1h-1zM535 519h1v1h-1zM255 483h1v1h-1zM33 519h1v1h-1zM423 448h1v1h-1zM484 464h1v1h-1zM288 489h1v1h-1zM202 467h1v1h-1zM175 450h1v1h-1zM194 463h1v1h-1zM319 485h1v1h-1zM446 446h1v1h-1zM277 488h1v1h-1zM300 490h1v1h-1zM352 491h1v1h-1zM438 442h1v1h-1zM457 455h1v1h-1zM611 513h1v1h-1zM125 467h1v1h-1zM176 451h1v1h-1zM460 457h1v1h-1zM259 485h1v1h-1zM334 488h1v1h-1zM542 526h1v1h-1zM502 471h1v1h-1zM494 467h1v1h-1zM149 451h1v1h-1zM422 448h1v1h-1zM475 463h1v1h-1zM587 515h1v1h-1zM414 453h1v1h-1zM126 467h1v1h-1zM205 468h1v1h-1zM118 472h1v1h-1zM86 507h1v1h-1zM478 464h1v1h-1zM509 479h1v1h-1zM392 470h1v1h-1zM70 517h1v1h-1zM384 475h1v1h-1zM456 454h1v1h-1zM90 504h1v1h-1zM498 469h1v1h-1zM490 465h1v1h-1zM364 487h1v1h-1zM220 470h1v1h-1zM201 466h1v1h-1zM314 486h1v1h-1zM472 462h1v1h-1zM556 532h1v1h-1zM10 516h1v1h-1zM129 464h1v1h-1zM265 486h1v1h-1zM340 489h1v1h-1zM599 511h1v1h-1zM141 456h1v1h-1zM341 490h1v1h-1zM98 494h1v1h-1zM133 461h1v1h-1zM557 532h1v1h-1zM36 519h1v1h-1zM59 521h1v1h-1zM591 512h1v1h-1zM614 514h1v1h-1zM145 453h1v1h-1zM418 450h1v1h-1zM137 458h1v1h-1zM122 469h1v1h-1zM292 490h1v1h-1zM303 490h1v1h-1zM452 451h1v1h-1zM190 460h1v1h-1zM368 485h1v1h-1zM497 468h1v1h-1zM151 450h1v1h-1zM66 519h1v1h-1zM537 521h1v2h-1zM380 477h1v1h-1zM276 487h1v1h-1zM372 482h1v1h-1zM360 489h1v1h-1zM113 477h1v2h-1zM538 523h1v1h-1zM208 468h1v1h-1zM310 488h1v1h-1zM394 469h1v1h-1zM5 517h1v1h-1zM110 481h1v1h-1zM156 448h1v1h-1zM479 464h1v1h-1zM386 474h1v1h-1zM406 461h1v1h-1zM209 469h1v1h-1zM493 466h1v1h-1zM40 520h1v1h-1zM21 516h1v1h-1zM295 490h1v1h-1zM433 442h1v1h-1zM390 471h1v1h-1zM54 522h1v1h-1zM410 458h1v1h-1zM163 447h1v1h-1zM399 467h1v1h-1zM223 470h1v1h-1zM43 521h1v1h-1zM559 532h1v1h-1zM602 512h1v1h-1zM55 522h1v1h-1zM322 485h1v1h-1zM511 482h1v1h-1zM268 486h1v1h-1zM280 488h1v1h-1zM355 491h1v1h-1zM548 531h1v1h-1zM241 478h1v1h-1zM116 474h1v1h-1zM572 525h1v1h-1zM147 452h1v1h-1zM512 483h1v1h-1zM344 490h1v1h-1zM325 486h1v1h-1zM139 457h1v1h-1zM234 475h1v1h-1zM356 491h1v1h-1zM413 454h1v2h-1zM215 470h1v1h-1zM382 476h1v1h-1zM551 532h1v1h-1zM374 481h1v1h-1zM227 471h1v1h-1zM47 522h1v1h-1zM238 477h1v1h-1zM448 448h1v1h-1zM230 473h1v1h-1zM429 444h1v1h-1zM594 511h1v1h-1zM186 457h1v1h-1zM421 449h1v1h-1zM451 450h1v1h-1zM378 478h1v1h-1zM73 516h1v1h-1zM108 483h1v1h-1zM552 532h1v1h-1zM253 483h1v1h-1zM544 528h1v1h-1zM482 464h1v1h-1zM286 489h1v1h-1zM547 530h1v1h-1zM231 473h1v1h-1zM181 454h1v1h-1zM212 469h1v1h-1zM329 487h1v1h-1zM13 516h1v1h-1zM24 516h1v1h-1zM298 490h1v1h-1zM536 520h1v1h-1zM436 442h1v1h-1zM256 484h1v1h-1zM46 522h1v1h-1zM166 447h1v1h-1zM249 481h1v1h-1zM27 517h1v1h-1zM124 468h1v1h-1zM271 487h1v1h-1zM305 489h1v1h-1zM605 512h1v1h-1zM473 463h1v1h-1zM485 465h1v1h-1zM366 486h1v1h-1zM242 478h1v1h-1zM62 520h1v1h-1zM574 524h1v1h-1zM589 513h1v1h-1zM128 465h1v1h-1zM283 488h1v1h-1zM252 482h1v1h-1zM120 470h1v1h-1zM447 447h1v1h-1zM466 460h1v1h-1zM586 516h1v1h-1zM88 505h1v1h-1zM578 521h1v1h-1zM306 489h1v1h-1zM328 486h1v1h-1zM362 488h1v1h-1zM245 479h1v1h-1zM570 526h1v1h-1zM16 516h1v1h-1zM425 446h1v1h-1zM590 513h1v1h-1zM49 522h1v1h-1zM417 451h1v1h-1zM92 502h1v1h-1zM177 451h1v1h-1zM77 513h1v1h-1zM469 461h1v1h-1zM158 447h1v1h-1zM582 518h1v1h-1zM69 518h1v1h-1zM218 470h1v1h-1zM260 485h1v1h-1zM8 517h1v1h-1zM470 462h1v1h-1zM170 448h1v1h-1zM81 510h1v1h-1zM274 487h1v1h-1zM462 458h1v1h-1zM554 532h1v1h-1zM608 512h1v1h-1zM317 485h1v1h-1zM31 518h1v1h-1zM350 491h1v1h-1zM609 513h1v1h-1zM173 449h1v1h-1z"/><path fill="#000" d="M2 2h639v1h-639zM2 309h639v1h-639zM2 2h1v308h-1zM640 2h1v308h-1zM2 311h639v1h-639zM2 429h639v1h-639zM2 311h1v119h-1zM640 311h1v119h-1zM2 431h639v1h-639zM2 542h639v1h-639zM2 431h1v112h-1zM640 431h1v112h-1zM641 10h2v1h-2zM641 46h2v1h-2zM641 83h2v1h-2zM641 119h2v1h-2zM641 156h2v1h-2zM641 193h2v1h-2zM641 229h2v1h-2zM641 266h2v1h-2zM641 302h2v1h-2zM641 312h2v1h-2zM641 380h2v1h-2zM641 428h2v1h-2zM641 432h2v1h-2zM641 485h2v1h-2zM641 541h2v1h-2zM3 543h1v3h-1zM67 543h1v3h-1zM131 543h1v3h-1zM195 543h1v3h-1zM259 543h1v3h-1zM323 543h1v3h-1zM387 543h1v3h-1zM451 543h1v3h-1zM515 543h1v3h-1zM579 543h1v3h-1z"/><rect x="643" y="243" width="34" height="11" fill="#000"/><rect x="7" y="5" width="182" height="11" fill="#fff"/><text transform="translate(7.000 14) scale(0.9298 1)" font-family="Liberation Sans" font-size="10" fill="#000" stroke="#000" stroke-width="0.25" text-rendering="geometricPrecision">GBPUSD,H1</text><text transform="translate(68.099 14) scale(0.8621 1)" font-family="Liberation Sans" font-size="10" fill="#000" stroke="#000" stroke-width="0.25" text-rendering="geometricPrecision">1.8987</text><text transform="translate(99.066 14) scale(0.8966 1)" font-family="Liberation Sans" font-size="10" fill="#000" stroke="#000" stroke-width="0.25" text-rendering="geometricPrecision">1.8992</text><text transform="translate(130.066 14) scale(0.8966 1)" font-family="Liberation Sans" font-size="10" fill="#000" stroke="#000" stroke-width="0.25" text-rendering="geometricPrecision">1.8980</text><text transform="translate(161.066 14) scale(0.8966 1)" font-family="Liberation Sans" font-size="10" fill="#000" stroke="#000" stroke-width="0.25" text-rendering="geometricPrecision">1.8989</text><text transform="translate(7.021 325) scale(0.9565 1)" font-family="Liberation Sans" font-size="10" fill="#000" stroke="#000" stroke-width="0.25" text-rendering="geometricPrecision">MACD_4H</text><text transform="translate(57.085 325) scale(0.8966 1)" font-family="Liberation Sans" font-size="10" fill="#000" stroke="#000" stroke-width="0.25" text-rendering="geometricPrecision">(12,26,9,240)</text><text transform="translate(114.000 325) scale(0.9265 1)" font-family="Liberation Sans" font-size="10" fill="#000" stroke="#000" stroke-width="0.25" text-rendering="geometricPrecision">-0.00174</text><text transform="translate(153.000 325) scale(0.8974 1)" font-family="Liberation Sans" font-size="10" fill="#000" stroke="#000" stroke-width="0.25" text-rendering="geometricPrecision">-0.00013</text><text transform="translate(7.043 445) scale(0.9412 1)" font-family="Liberation Sans" font-size="10" fill="#000" stroke="#000" stroke-width="0.25" text-rendering="geometricPrecision">MACD(12,26,9)</text><text transform="translate(76.000 445) scale(0.8974 1)" font-family="Liberation Sans" font-size="10" fill="#000" stroke="#000" stroke-width="0.25" text-rendering="geometricPrecision">-0.00182</text><text transform="translate(115.000 445) scale(0.8974 1)" font-family="Liberation Sans" font-size="10" fill="#000" stroke="#000" stroke-width="0.25" text-rendering="geometricPrecision">-0.00163</text><text transform="translate(5.981 538) scale(1.0000 1)" font-family="Liberation Sans" font-size="10" fill="#000" stroke="#000" stroke-width="0.25" text-rendering="geometricPrecision">MetaTrader,</text><text transform="translate(62.000 538) scale(1.2857 1)" font-family="Liberation Sans" font-size="10" fill="#000" stroke="#000" stroke-width="0.25" text-rendering="geometricPrecision">©</text><text transform="translate(75.000 538) scale(0.8750 1)" font-family="Liberation Sans" font-size="10" fill="#000" stroke="#000" stroke-width="0.25" text-rendering="geometricPrecision">2001-2006</text><text transform="translate(120.982 538) scale(0.9818 1)" font-family="Liberation Sans" font-size="10" fill="#000" stroke="#000" stroke-width="0.25" text-rendering="geometricPrecision">MetaQuotes</text><text transform="translate(178.026 538) scale(0.9474 1)" font-family="Liberation Sans" font-size="10" fill="#000" stroke="#000" stroke-width="0.25" text-rendering="geometricPrecision">Software</text><text transform="translate(218.000 538) scale(1.1667 1)" font-family="Liberation Sans" font-size="10" fill="#000" stroke="#000" stroke-width="0.25" text-rendering="geometricPrecision">Corp.</text><text transform="translate(2.000 555) scale(0.9412 1)" font-family="Liberation Sans" font-size="10" fill="#000" stroke="#000" stroke-width="0.25" text-rendering="geometricPrecision">6 Nov 2006</text><text transform="translate(66.000 555) scale(0.9630 1)" font-family="Liberation Sans" font-size="10" fill="#000" stroke="#000" stroke-width="0.25" text-rendering="geometricPrecision">6 Nov 22:00</text><text transform="translate(130.000 555) scale(0.9630 1)" font-family="Liberation Sans" font-size="10" fill="#000" stroke="#000" stroke-width="0.25" text-rendering="geometricPrecision">7 Nov 14:00</text><text transform="translate(194.000 555) scale(0.9444 1)" font-family="Liberation Sans" font-size="10" fill="#000" stroke="#000" stroke-width="0.25" text-rendering="geometricPrecision">8 Nov 06:00</text><text transform="translate(258.000 555) scale(0.9630 1)" font-family="Liberation Sans" font-size="10" fill="#000" stroke="#000" stroke-width="0.25" text-rendering="geometricPrecision">8 Nov 22:00</text><text transform="translate(322.000 555) scale(0.9630 1)" font-family="Liberation Sans" font-size="10" fill="#000" stroke="#000" stroke-width="0.25" text-rendering="geometricPrecision">9 Nov 14:00</text><text transform="translate(387.050 555) scale(0.9144 1)" font-family="Liberation Sans" font-size="10" fill="#000" stroke="#000" stroke-width="0.25" text-rendering="geometricPrecision">10 Nov 06:00</text><text transform="translate(451.050 555) scale(0.9144 1)" font-family="Liberation Sans" font-size="10" fill="#000" stroke="#000" stroke-width="0.25" text-rendering="geometricPrecision">10 Nov 22:00</text><text transform="translate(515.050 555) scale(0.9144 1)" font-family="Liberation Sans" font-size="10" fill="#000" stroke="#000" stroke-width="0.25" text-rendering="geometricPrecision">13 Nov 15:00</text><text transform="translate(579.050 555) scale(0.9144 1)" font-family="Liberation Sans" font-size="10" fill="#000" stroke="#000" stroke-width="0.25" text-rendering="geometricPrecision">14 Nov 07:00</text><text transform="translate(644.000 322) scale(0.9167 1)" font-family="Liberation Sans" font-size="10" fill="#000" stroke="#000" stroke-width="0.25" text-rendering="geometricPrecision">0.00281</text><text transform="translate(644.000 383) scale(0.9474 1)" font-family="Liberation Sans" font-size="10" fill="#000" stroke="#000" stroke-width="0.25" text-rendering="geometricPrecision">0.00</text><text transform="translate(644.000 426) scale(0.9231 1)" font-family="Liberation Sans" font-size="10" fill="#000" stroke="#000" stroke-width="0.25" text-rendering="geometricPrecision">-0.00203</text><text transform="translate(644.000 442) scale(0.9167 1)" font-family="Liberation Sans" font-size="10" fill="#000" stroke="#000" stroke-width="0.25" text-rendering="geometricPrecision">0.00288</text><text transform="translate(644.000 488) scale(0.9474 1)" font-family="Liberation Sans" font-size="10" fill="#000" stroke="#000" stroke-width="0.25" text-rendering="geometricPrecision">0.00</text><text transform="translate(644.000 539) scale(0.9231 1)" font-family="Liberation Sans" font-size="10" fill="#000" stroke="#000" stroke-width="0.25" text-rendering="geometricPrecision">-0.00313</text><text transform="translate(647.101 252) scale(0.8633 1)" font-family="Liberation Sans" font-size="10" fill="#fff" stroke="#fff" stroke-width="0.25" text-rendering="geometricPrecision">1.8989</text><text transform="translate(647.066 13) scale(0.8966 1)" font-family="Liberation Sans" font-size="10" fill="#000" stroke="#000" stroke-width="0.25" text-rendering="geometricPrecision">1.9185</text><text transform="translate(647.066 49) scale(0.8966 1)" font-family="Liberation Sans" font-size="10" fill="#000" stroke="#000" stroke-width="0.25" text-rendering="geometricPrecision">1.9155</text><text transform="translate(647.066 86) scale(0.8966 1)" font-family="Liberation Sans" font-size="10" fill="#000" stroke="#000" stroke-width="0.25" text-rendering="geometricPrecision">1.9125</text><text transform="translate(647.066 122) scale(0.8966 1)" font-family="Liberation Sans" font-size="10" fill="#000" stroke="#000" stroke-width="0.25" text-rendering="geometricPrecision">1.9095</text><text transform="translate(647.066 159) scale(0.8966 1)" font-family="Liberation Sans" font-size="10" fill="#000" stroke="#000" stroke-width="0.25" text-rendering="geometricPrecision">1.9065</text><text transform="translate(647.066 196) scale(0.8966 1)" font-family="Liberation Sans" font-size="10" fill="#000" stroke="#000" stroke-width="0.25" text-rendering="geometricPrecision">1.9035</text><text transform="translate(647.066 232) scale(0.8966 1)" font-family="Liberation Sans" font-size="10" fill="#000" stroke="#000" stroke-width="0.25" text-rendering="geometricPrecision">1.9005</text><text transform="translate(647.066 269) scale(0.8966 1)" font-family="Liberation Sans" font-size="10" fill="#000" stroke="#000" stroke-width="0.25" text-rendering="geometricPrecision">1.8975</text><text transform="translate(647.066 305) scale(0.8966 1)" font-family="Liberation Sans" font-size="10" fill="#000" stroke="#000" stroke-width="0.25" text-rendering="geometricPrecision">1.8945</text></svg></body></html>
